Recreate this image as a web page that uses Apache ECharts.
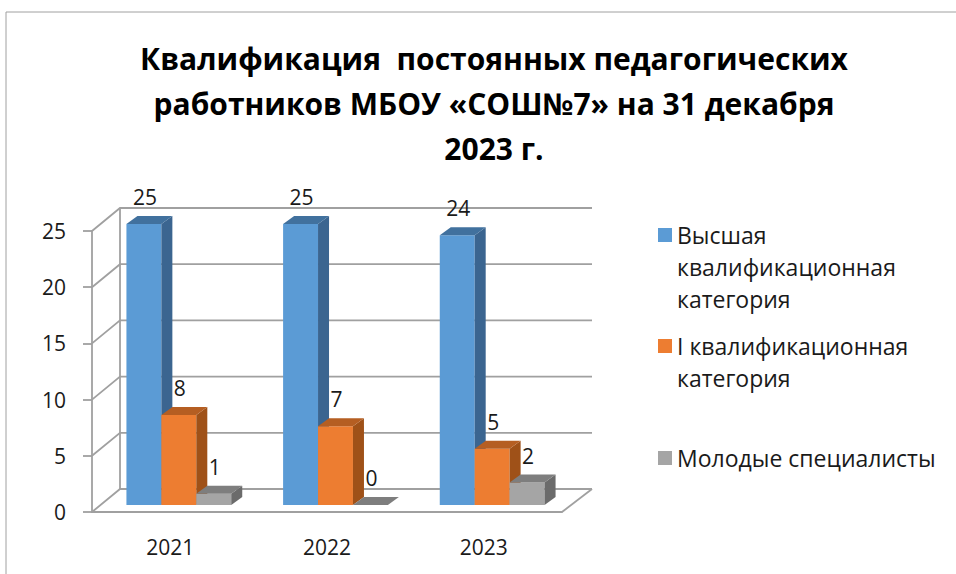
<!DOCTYPE html>
<html>
<head>
<meta charset="utf-8">
<script src="https://cdn.jsdelivr.net/npm/echarts@6/dist/echarts.min.js"></script>
<style>
  html, body { margin: 0; padding: 0; background: #fff; }
  #chart { width: 956px; height: 574px; }
</style>
</head>
<body>
<div id="chart"></div>
<script>
  var years = ['2021', '2022', '2023']
  var seriesNames = ['Высшая квалификационная категория', 'I квалификационная категория', 'Молодые специалисты']
  var legendLines = [['Высшая', 'квалификационная', 'категория'], ['I квалификационная', 'категория'], ['Молодые специалисты']]
  var highest = [25, 25, 24]
  var firstCat = [8, 7, 5]
  var young = [1, 0, 2]
  var yTicks = [0, 5, 10, 15, 20, 25]

  // front / side / top colours of each 3d bar
  var faceColors = [
    ['#5B9BD5', '#3B6590', '#41719E'],
    ['#ED7D31', '#9F5118', '#B55E22'],
    ['#A5A5A5', '#6B6B6B', '#7E7E7E']
  ]
  var fontName = '"Open Sans", "Noto Sans", sans-serif'

  // depth of the back wall and of a bar, in px
  var wallDx = 28, wallDy = 23
  var barShiftX = 8.5, barShiftY = 7
  var barDx = 11, barDy = 8

  var chart = echarts.init(document.getElementById('chart'), null, { renderer: 'svg' })

  // back wall, side wall and floor
  function renderWalls (params, api) {
    var cs = params.coordSys
    var v = api.value(1)
    var y = api.coord([0, v])[1]
    var line = { stroke: '#A0A0A0', lineWidth: 1.8, fill: null }
    var children = [{
      type: 'polyline',
      shape: { points: [[cs.x, y], [cs.x + wallDx, y - wallDy], [cs.x + cs.width + wallDx + 2, y - wallDy]] },
      style: line
    }]
    if (v === 0) {
      var yTop = api.coord([0, yTicks[yTicks.length - 1]])[1]
      children.push({
        type: 'line',
        shape: { x1: cs.x + wallDx, y1: y - wallDy, x2: cs.x + wallDx, y2: yTop - wallDy },
        style: line
      })
      children.push({
        type: 'line',
        shape: { x1: cs.x + cs.width, y1: y, x2: cs.x + cs.width + wallDx + 2, y2: y - wallDy },
        style: line
      })
    }
    return { type: 'group', children: children }
  }

  function makeBarRenderer (k) {
    return function (params, api) {
      var cat = api.value(0)
      var v = api.value(1)
      var base = api.coord([cat, 0])
      var top = api.coord([cat, v])
      var bw = api.size([1, 0])[0] * 0.223
      var x0 = base[0] - 1.5 * bw + k * bw + barShiftX
      var yb = base[1] - barShiftY
      var yt = top[1] - barShiftY
      var c = faceColors[k]
      return {
        type: 'group',
        children: [
          {
            type: 'rect',
            shape: { x: x0, y: yt, width: bw, height: yb - yt },
            style: { fill: c[0] }
          },
          {
            type: 'polygon',
            shape: { points: [[x0 + bw, yb], [x0 + bw + barDx, yb - barDy], [x0 + bw + barDx, yt - barDy], [x0 + bw, yt]] },
            style: { fill: c[1] }
          },
          {
            type: 'polygon',
            shape: { points: [[x0, yt], [x0 + barDx, yt - barDy], [x0 + bw + barDx, yt - barDy], [x0 + bw, yt]] },
            style: { fill: c[2] }
          },
          {
            type: 'text',
            style: {
              text: String(v),
              x: x0 + bw / 2 + 1,
              y: yt - barDy - 19,
              align: 'center',
              verticalAlign: 'middle',
              fill: '#1a1a1a',
              font: '21px ' + fontName
            }
          }
        ]
      }
    }
  }

  var values = [highest, firstCat, young]
  var series = [{
    type: 'custom',
    name: 'walls',
    renderItem: renderWalls,
    silent: true,
    data: yTicks.map(function (v) { return [0, v] }),
    z: 1
  }]
  values.forEach(function (arr, k) {
    series.push({
      type: 'custom',
      name: seriesNames[k],
      renderItem: makeBarRenderer(k),
      encode: { x: 0, y: 1 },
      data: arr.map(function (v, i) { return [i, v] }),
      itemStyle: { color: faceColors[k][0] },
      z: 2 + k
    })
  })

  // the icon sits beside the first line: pad the text with empty lines above
  var legendLineH = 32
  var legendIconY = [235, 346, 458]
  var legends = seriesNames.map(function (name, k) {
    var n = legendLines[k].length
    var lines = []
    for (var i = 1; i < n; i++) lines.push('')
    var text = lines.concat(legendLines[k]).join('\n')
    return {
      orient: 'vertical',
      left: 658,
      top: legendIconY[k] - (2 * n - 1) * legendLineH / 2,
      data: [name],
      icon: 'rect',
      itemWidth: 14,
      itemHeight: 14,
      itemGap: 0,
      padding: 0,
      selectedMode: false,
      formatter: function () { return text },
      textStyle: {
        fontFamily: fontName,
        fontSize: 23,
        color: '#1a1a1a',
        lineHeight: legendLineH
      }
    }
  })

  var option = {
    backgroundColor: '#fff',
    animation: false,
    title: {
      text: 'Квалификация  постоянных педагогических\nработников МБОУ «СОШ№7» на 31 декабря\n2023 г.',
      left: 494,
      top: 36,
      textAlign: 'center',
      padding: 0,
      textStyle: {
        fontFamily: fontName,
        fontSize: 30,
        fontWeight: 'bold',
        color: '#000',
        lineHeight: 45
      }
    },
    graphic: [{
      type: 'rect',
      shape: { x: 6, y: 12, width: 1000, height: 700 },
      style: { fill: null, stroke: '#A0A0A0', lineWidth: 1 },
      silent: true
    }],
    legend: legends,
    grid: { left: 92, top: 231, width: 470, bottom: 62 },
    xAxis: {
      type: 'category',
      data: years,
      axisLine: { lineStyle: { color: '#A0A0A0', width: 1.8 } },
      axisTick: { length: 9, lineStyle: { color: '#A0A0A0', width: 1.8 } },
      axisLabel: { margin: 24, fontFamily: fontName, fontSize: 21, color: '#1a1a1a' },
      splitLine: { show: false }
    },
    yAxis: {
      type: 'value',
      min: 0,
      max: 25,
      interval: 5,
      axisLine: { show: true, lineStyle: { color: '#A0A0A0', width: 1.8 } },
      axisTick: { show: true, length: 9, lineStyle: { color: '#A0A0A0', width: 1.8 } },
      axisLabel: { margin: 26, fontFamily: fontName, fontSize: 21, color: '#1a1a1a' },
      splitLine: { show: false }
    },
    series: series
  }
  chart.setOption(option)
</script>
</body>
</html>
